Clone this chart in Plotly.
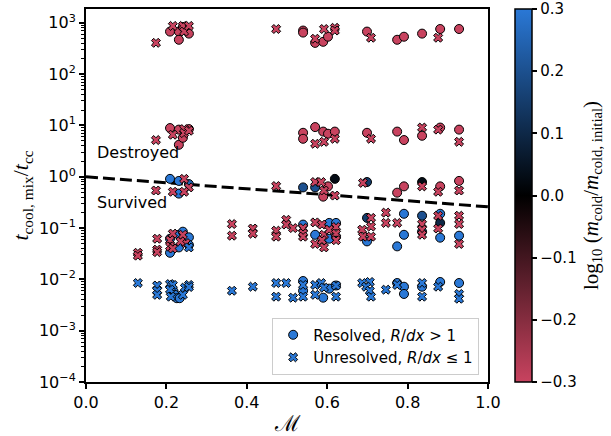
import plotly.graph_objects as go

# ---------------- data ----------------
# Resolved (circles): Mach number, t_cool,mix/t_cc, log10(m_cold/m_cold,initial)
res_mach = [0.209, 0.231, 0.231, 0.241, 0.256, 0.540, 0.540, 0.570, 0.590, 0.602, 0.699, 0.774, 0.791, 0.836, 0.881, 0.928,
            0.209, 0.231, 0.231, 0.241, 0.256, 0.540, 0.540, 0.570, 0.590, 0.602, 0.619, 0.699, 0.774, 0.791, 0.836, 0.881, 0.928,
            0.209, 0.231, 0.256, 0.231, 0.540, 0.570, 0.590, 0.602, 0.619, 0.699, 0.774, 0.791, 0.836, 0.881, 0.928,
            0.209, 0.209, 0.231, 0.231, 0.241, 0.256, 0.256, 0.540, 0.570, 0.605, 0.605, 0.622, 0.622, 0.699, 0.699, 0.791, 0.791,
            0.774, 0.836, 0.836, 0.881, 0.881, 0.881, 0.928,
            0.218, 0.221, 0.226, 0.233, 0.540, 0.540, 0.590, 0.605, 0.622, 0.774, 0.791, 0.791, 0.836, 0.881, 0.928]
res_t = [676, 676, 468, 832, 617, 708, 646, 407, 427, 537, 676, 468, 537, 617, 759, 759,
         8.9, 8.3, 4.2, 5.75, 8.5, 7.2, 5.5, 9.3, 7.6, 6.9, 7.6, 7.2, 7.6, 5.2, 6.3, 9.1, 8.3,
         0.91, 0.83, 0.72, 0.47, 0.62, 0.62, 0.41, 0.65, 0.91, 0.79, 0.49, 0.65, 0.79, 0.65, 0.83,
         0.062, 0.033, 0.074, 0.042, 0.085, 0.066, 0.047, 0.117, 0.074, 0.126, 0.062, 0.126, 0.068, 0.158, 0.055, 0.19, 0.074,
         0.044, 0.174, 0.085, 0.19, 0.126, 0.065, 0.071,
         0.0058, 0.0050, 0.0043, 0.0043, 0.0093, 0.0060, 0.0044, 0.0066, 0.0076, 0.0085, 0.0072, 0.0052, 0.0072, 0.0089, 0.0085]
res_mass = [-0.3] * 16 + [-0.3] * 17 + \
           [0.3, 0.3, 0.25, 0.3, 0.2, 0.2, -0.3, -0.3, 0.03, 0.15, -0.3, -0.3, 0.03, -0.3, -0.3] + \
           [0.3] * 13 + [0.15, 0.3, 0.3, 0.3, 0.3, 0.2, 0.3, 0.3, 0.1, 0.3, 0.3] + \
           [0.3] * 15

# Unresolved (crosses)
unres_mach = [0.174, 0.216, 0.241, 0.244, 0.256, 0.473, 0.570, 0.592, 0.619, 0.619, 0.709, 0.876,
              0.174, 0.216, 0.244, 0.244, 0.256, 0.570, 0.592, 0.619, 0.709, 0.836, 0.876, 0.928,
              0.244, 0.256, 0.244, 0.216, 0.174, 0.473, 0.570, 0.585, 0.592, 0.619, 0.689, 0.836, 0.876, 0.928,
              0.129, 0.129, 0.177, 0.177, 0.177, 0.216, 0.209, 0.209, 0.216, 0.241, 0.248, 0.235,
              0.363, 0.363, 0.415, 0.415, 0.473, 0.473, 0.498, 0.498, 0.515, 0.540, 0.540, 0.540, 0.570, 0.570,
              0.587, 0.592, 0.587, 0.592, 0.605, 0.622, 0.622, 0.622, 0.709, 0.687, 0.709, 0.689, 0.709,
              0.746, 0.746, 0.774, 0.836, 0.836, 0.836, 0.876, 0.876, 0.928, 0.928, 0.928, 0.256,
              0.129, 0.177, 0.177, 0.177, 0.209, 0.216, 0.209, 0.211, 0.241, 0.246, 0.256, 0.256,
              0.363, 0.415, 0.473, 0.473, 0.498, 0.515, 0.540, 0.540, 0.570, 0.570, 0.585, 0.592, 0.622, 0.622,
              0.687, 0.706, 0.697, 0.706, 0.709, 0.746, 0.774, 0.836, 0.836, 0.876, 0.928, 0.928]
unres_t = [408, 871, 871, 676, 871, 759, 490, 759, 800, 708, 513, 513,
           5.2, 6.6, 8.5, 7.1, 7.9, 4.4, 4.8, 5.5, 5.5, 9.1, 8.3, 4.8,
           0.91, 0.62, 0.51, 0.51, 0.54, 0.66, 0.79, 0.79, 0.54, 0.43, 0.76, 0.65, 0.51, 0.54,
           0.033, 0.029, 0.062, 0.038, 0.034, 0.078, 0.058, 0.044, 0.040, 0.074, 0.051, 0.055,
           0.12, 0.071, 0.098, 0.078, 0.089, 0.068, 0.145, 0.117, 0.10, 0.10, 0.079, 0.068, 0.129, 0.049,
           0.117, 0.074, 0.058, 0.042, 0.093, 0.105, 0.078, 0.058, 0.158, 0.093, 0.107, 0.068, 0.068,
           0.20, 0.126, 0.126, 0.12, 0.093, 0.074, 0.174, 0.098, 0.174, 0.12, 0.049, 0.042,
           0.0085, 0.0076, 0.0060, 0.0050, 0.0081, 0.0078, 0.0063, 0.0046, 0.0050, 0.0069, 0.0078, 0.0071,
           0.0060, 0.0072, 0.0085, 0.0046, 0.0085, 0.0044, 0.0078, 0.0046, 0.0078, 0.0050, 0.0085, 0.0069, 0.0076, 0.0046,
           0.0085, 0.0089, 0.0072, 0.0060, 0.0046, 0.0063, 0.0078, 0.0085, 0.0046, 0.0072, 0.0052, 0.0042]
unres_mass = [-0.3] * 12 + [-0.3] * 12 + [-0.3] * 14 + [-0.3] * 12 + [-0.3] * 14 + [-0.3] * 13 + \
             [-0.3] * 11 + [0.3] + [0.3] * 12 + [0.3] * 14 + [0.3] * 12

# Destroyed/survived dividing line
line_mach = [0.0, 1.0]
line_t = [1.0, 0.26]

y_tickvals = [1e-4, 1e-3, 1e-2, 1e-1, 1e0, 1e1, 1e2, 1e3]
y_ticktext = ["10<sup>−4</sup>", "10<sup>−3</sup>", "10<sup>−2</sup>", "10<sup>−1</sup>",
              "10<sup>0</sup>", "10<sup>1</sup>", "10<sup>2</sup>", "10<sup>3</sup>"]
x_tickvals = [0.0, 0.2, 0.4, 0.6, 0.8, 1.0]
x_ticktext = ["0.0", "0.2", "0.4", "0.6", "0.8", "1.0"]
cb_tickvals = [-0.3, -0.2, -0.1, 0.0, 0.1, 0.2, 0.3]
cb_ticktext = ["−0.3", "−0.2", "−0.1", "0.0", "0.1", "0.2", "0.3"]

# ---------------- styling ----------------
RED = "#c8435f"
BLUE = "#2a78d6"
cscale = [[0.0, RED], [0.5, "#000000"], [1.0, BLUE]]
SANS = "DejaVu Sans"
SERIF = "Liberation Serif"

minor_vals = [k * 10.0 ** n for n in range(-4, 4) for k in range(2, 10)]

fig = go.Figure()

fig.add_trace(go.Scatter(
    x=line_mach, y=line_t, mode="lines",
    line=dict(color="black", width=3, dash="12px,5px"),
    showlegend=False, hoverinfo="skip"))

marker_common = dict(colorscale=cscale, cmin=-0.3, cmax=0.3,
                     line=dict(color="black", width=1))

fig.add_trace(go.Scatter(
    x=res_mach, y=res_t, mode="markers", showlegend=False,
    marker=dict(symbol="circle", size=9, color=res_mass, showscale=True,
                colorbar=dict(
                    x=1.042, xanchor="left", xref="paper", y=0.5, yanchor="middle",
                    len=1.0, lenmode="fraction", thickness=17, xpad=10, ypad=0,
                    outlinecolor="black", outlinewidth=1.5,
                    ticks="outside", ticklen=5, tickwidth=1.5, tickcolor="black",
                    tickvals=cb_tickvals, ticktext=cb_ticktext,
                    tickfont=dict(family=SANS, size=15, color="black"),
                    title=dict(
                        text="log<sub>10</sub> (<i>m</i><sub>cold</sub>/<i>m</i><sub>cold, initial</sub>)",
                        side="right", font=dict(family=SERIF, size=21, color="black"))),
                **marker_common)))

fig.add_trace(go.Scatter(
    x=unres_mach, y=unres_t, mode="markers", showlegend=False,
    marker=dict(symbol="x", size=8, color=unres_mass, **marker_common)))

# legend proxies
fig.add_trace(go.Scatter(
    x=[None], y=[None], mode="markers", name="Resolved, <i>R</i>/<i>dx</i> > 1",
    marker=dict(symbol="circle", size=9, color=BLUE, line=dict(color="black", width=1))))
fig.add_trace(go.Scatter(
    x=[None], y=[None], mode="markers", name="Unresolved, <i>R</i>/<i>dx</i> ≤ 1",
    marker=dict(symbol="x", size=8, color=BLUE, line=dict(color="black", width=1))))

fig.add_annotation(x=0.022, y=0.47, xref="x", yref="y", text="Destroyed", showarrow=False,
                   xanchor="left", yanchor="middle", font=dict(family=SANS, size=16, color="black"))
fig.add_annotation(x=0.022, y=-0.51, xref="x", yref="y", text="Survived", showarrow=False,
                   xanchor="left", yanchor="middle", font=dict(family=SANS, size=16, color="black"))

fig.update_layout(
    width=611, height=436,
    margin=dict(l=86, r=123, t=9, b=54, autoexpand=False),
    paper_bgcolor="white", plot_bgcolor="white",
    font=dict(family=SANS, size=15, color="black"),
    legend=dict(x=0.978, y=0.02, xanchor="right", yanchor="bottom",
                bgcolor="rgba(255,255,255,0.9)", bordercolor="#cccccc", borderwidth=1,
                font=dict(family=SANS, size=15, color="black")),
    xaxis=dict(range=[0, 1], tickvals=x_tickvals, ticktext=x_ticktext,
               showgrid=False, zeroline=False, showline=True, linecolor="black", linewidth=2,
               mirror=True, ticks="outside", ticklen=5, tickwidth=1.5, tickcolor="black",
               tickfont=dict(family=SANS, size=16),
               title=dict(text="ℳ", font=dict(family=SERIF, size=22), standoff=6)),
    yaxis=dict(type="log", range=[-4, 3.27], tickvals=y_tickvals, ticktext=y_ticktext,
               showgrid=False, zeroline=False, showline=True, linecolor="black", linewidth=2,
               mirror=True, ticks="outside", ticklen=5, tickwidth=1.5, tickcolor="black",
               tickfont=dict(family=SANS, size=16),
               minor=dict(tickvals=minor_vals, ticks="outside", ticklen=3, tickwidth=1, tickcolor="black"),
               title=dict(text="<i>t</i><sub>cool, mix</sub>/<i>t</i><sub>cc</sub>",
                          font=dict(family=SERIF, size=22), standoff=4)),
)

fig.write_html("out.html")
